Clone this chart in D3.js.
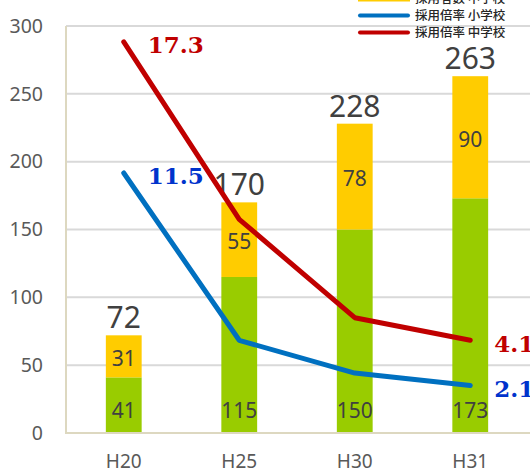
<!DOCTYPE html>
<html>
<head>
<meta charset="utf-8">
<script src="https://cdn.jsdelivr.net/npm/d3@7"></script>
<style>
  html, body { margin: 0; padding: 0; background: #fff; }
  svg { display: block; }
</style>
</head>
<body>
<svg id="chart" width="530" height="473"></svg>
<script>
// ---- data ----
const categories = ["H20", "H25", "H30", "H31"];
const hiresElementary = [41, 115, 150, 173];   // 採用者数 小学校
const hiresJunior = [31, 55, 78, 90];          // 採用者数 中学校
const totals = [72, 170, 228, 263];
const ratioElementary = [11.5, 4.1, 2.65, 2.1];  // 採用倍率 小学校
const ratioJunior = [17.3, 9.45, 5.1, 4.1];      // 採用倍率 中学校
const ratioElementaryLabels = ["11.5", "", "", "2.1"];
const ratioJuniorLabels = ["17.3", "", "", "4.1"];
const yTicks = [0, 50, 100, 150, 200, 250, 300];
const legendLabels = ["採用者数 中学校", "採用倍率 小学校", "採用倍率 中学校"];

(function () {
// ---- layout ----
const svg = d3.select("#chart");
const pLeft = 66, pRight = 528, pTop = 26, pBottom = 433;
const green = "#99CC00", yellow = "#FFCC00", red = "#C00000", blue = "#0070C0";
const sans = "'Noto Sans', 'Open Sans', sans-serif";

const x = d3.scaleBand().domain(categories).range([pLeft, pRight]).paddingInner(0.69).paddingOuter(0.345);
const y = d3.scaleLinear().domain([0, 300]).range([pBottom, pTop]);
const y2 = d3.scaleLinear().domain([0, 18]).range([pBottom, pTop]);

// gridlines
svg.append("g").selectAll("line").data(yTicks.filter(d => d > 0)).join("line")
  .attr("x1", pLeft).attr("x2", 530)
  .attr("y1", d => y(d)).attr("y2", d => y(d))
  .attr("stroke", "#D9D9D9").attr("stroke-width", 2);

// y axis labels
const yAxis = d3.axisLeft(y).tickValues(yTicks).tickSize(0).tickPadding(23);
const gy = svg.append("g").attr("transform", `translate(${pLeft},0)`).call(yAxis);
gy.select(".domain").remove();
gy.selectAll("text").attr("font-family", sans).attr("font-size", 19.5).attr("fill", "#595959");

// bars
const bars = svg.append("g");
bars.selectAll("rect.g").data(categories).join("rect").attr("class", "g")
  .attr("x", d => x(d)).attr("width", x.bandwidth())
  .attr("y", (d, i) => y(hiresElementary[i]))
  .attr("height", (d, i) => y(0) - y(hiresElementary[i]))
  .attr("fill", green);
bars.selectAll("rect.yl").data(categories).join("rect").attr("class", "yl")
  .attr("x", d => x(d)).attr("width", x.bandwidth())
  .attr("y", (d, i) => y(hiresElementary[i] + hiresJunior[i]))
  .attr("height", (d, i) => y(hiresElementary[i]) - y(hiresElementary[i] + hiresJunior[i]))
  .attr("fill", yellow);

// axes frame (left & bottom)
svg.append("line").attr("x1", pLeft).attr("x2", pLeft).attr("y1", pTop).attr("y2", pBottom + 1)
  .attr("stroke", "#DDD8C0").attr("stroke-width", 2);
svg.append("line").attr("x1", pLeft - 1).attr("x2", 530).attr("y1", pBottom).attr("y2", pBottom)
  .attr("stroke", "#DDD8C0").attr("stroke-width", 2);

// x axis labels
const xAxis = d3.axisBottom(x).tickSize(0).tickPadding(22);
const gx = svg.append("g").attr("transform", `translate(0,${pBottom})`).call(xAxis);
gx.select(".domain").remove();
gx.selectAll("text").attr("font-family", sans).attr("font-size", 19).attr("fill", "#595959");

// bar labels
const lbl = svg.append("g").attr("font-family", sans).attr("fill", "#404040").attr("text-anchor", "middle");
lbl.selectAll("text.g").data(categories).join("text").attr("class", "g")
  .attr("x", d => x(d) + x.bandwidth() / 2).attr("y", pBottom - 15)
  .attr("font-size", 21).text((d, i) => hiresElementary[i]);
lbl.selectAll("text.yl").data(categories).join("text").attr("class", "yl")
  .attr("x", d => x(d) + x.bandwidth() / 2)
  .attr("y", (d, i) => (y(hiresElementary[i]) + y(hiresElementary[i] + hiresJunior[i])) / 2 + 9.5)
  .attr("font-size", 21).text((d, i) => hiresJunior[i]);
lbl.selectAll("text.t").data(categories).join("text").attr("class", "t")
  .attr("x", d => x(d) + x.bandwidth() / 2)
  .attr("y", (d, i) => y(totals[i]) - 7)
  .attr("font-size", 30).text((d, i) => totals[i]);

// lines
const cx = d => x(d) + x.bandwidth() / 2;
const line = d3.line().x(d => cx(d.c)).y(d => y2(d.v));
const series = [
  { vals: ratioElementary, labels: ratioElementaryLabels, color: blue, text: "#0033CC" },
  { vals: ratioJunior, labels: ratioJuniorLabels, color: red, text: "#C00000" }
];
series.forEach(s => {
  const pts = categories.map((c, i) => ({ c, v: s.vals[i], l: s.labels[i] }));
  svg.append("path").datum(pts).attr("d", line)
    .attr("fill", "none").attr("stroke", s.color).attr("stroke-width", 5)
    .attr("stroke-linecap", "round").attr("stroke-linejoin", "round");
  svg.append("g").selectAll("text").data(pts.filter(p => p.l)).join("text")
    .attr("x", p => cx(p.c) + 24).attr("y", p => y2(p.v) + 11.5)
    .attr("font-family", "'DejaVu Serif', serif").attr("font-weight", "bold")
    .attr("font-size", 23).attr("fill", s.text).text(p => p.l);
});

// legend
const legendItems = [
  { label: legendLabels[0], color: yellow, type: "rect" },
  { label: legendLabels[1], color: blue, type: "line" },
  { label: legendLabels[2], color: red, type: "line" }
];
const lg = svg.append("g");
legendItems.forEach((it, i) => {
  const cy = -1.5 + i * 17;
  if (it.type === "rect") {
    lg.append("rect").attr("x", 358).attr("y", cy - 4).attr("width", 52).attr("height", 7).attr("fill", it.color);
  } else {
    lg.append("line").attr("x1", 360).attr("x2", 408).attr("y1", cy).attr("y2", cy)
      .attr("stroke", it.color).attr("stroke-width", 4).attr("stroke-linecap", "round");
  }
  lg.append("text").attr("x", 415).attr("y", cy + 4.5)
    .attr("font-family", "'Noto Sans CJK JP', sans-serif").attr("font-size", 12.5).attr("font-weight", 500)
    .attr("fill", "#262626").text(it.label);
});
})();
</script>
</body>
</html>
